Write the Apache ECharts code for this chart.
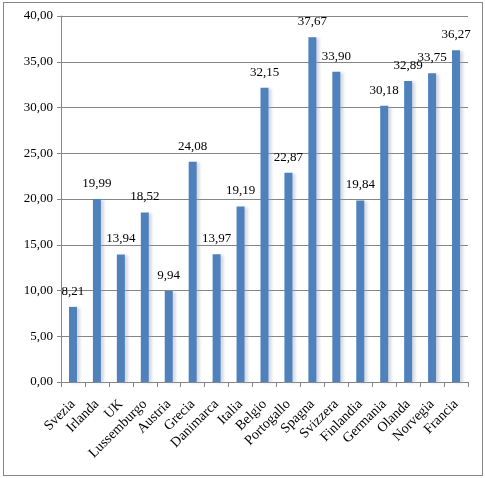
<!DOCTYPE html>
<html>
<head>
<meta charset="utf-8">
<script src="https://cdn.jsdelivr.net/npm/echarts@6/dist/echarts.min.js"></script>
<style>
    html, body { margin: 0; padding: 0; background: #fff; }
    #main { width: 485px; height: 478px; }
    #frame { position: absolute; left: 3px; top: 2px; width: 480px; height: 474px; border: 1px solid #868686; box-sizing: border-box; pointer-events: none; }
</style>
</head>
<body>
<div id="main"></div>
<div id="frame"></div>
<script>
var paesi = ['Svezia', 'Irlanda', 'UK', 'Lussemburgo', 'Austria', 'Grecia', 'Danimarca', 'Italia', 'Belgio',
    'Portogallo', 'Spagna', 'Svizzera', 'Finlandia', 'Germania', 'Olanda', 'Norvegia', 'Francia'];
var valori = [8.21, 19.99, 13.94, 18.52, 9.94, 24.08, 13.97, 19.19, 32.15,
    22.87, 37.67, 33.90, 19.84, 30.18, 32.89, 33.75, 36.27];
var yMin = 0, yMax = 40, yPasso = 5;

function virgola(v) {
    return Number(v).toFixed(2).replace('.', ',');
}

var myChart = echarts.init(document.getElementById('main'));

var option = {
    animation: false,
    textStyle: { fontFamily: 'Liberation Serif' },
    grid: { left: 61, right: 17, top: 16, bottom: 96, containLabel: false },
    xAxis: {
        type: 'category',
        data: paesi,
        axisLine: { lineStyle: { color: '#868686' } },
        axisTick: { show: true, length: 5, lineStyle: { color: '#868686' } },
        axisLabel: { rotate: 45, interval: 0, color: '#000', fontSize: 14, fontFamily: 'Liberation Serif', margin: 20 }
    },
    yAxis: {
        type: 'value',
        min: yMin,
        max: yMax,
        interval: yPasso,
        axisLine: { show: true, lineStyle: { color: '#868686' } },
        axisTick: { show: true, length: 4, lineStyle: { color: '#868686' } },
        splitLine: { lineStyle: { color: '#868686' } },
        axisLabel: { color: '#000', fontSize: 13, fontFamily: 'Liberation Serif', margin: 8, formatter: virgola }
    },
    series: [{
        type: 'bar',
        data: valori,
        barWidth: 8,
        itemStyle: {
            color: '#4F81BD',
            shadowColor: 'rgba(150,160,180,0.4)',
            shadowOffsetX: 3,
            shadowOffsetY: 1,
            shadowBlur: 3
        },
        label: {
            show: true,
            position: 'top',
            distance: 9,
            color: '#000',
            fontSize: 13,
            fontFamily: 'Liberation Serif',
            formatter: function (p) { return virgola(p.value); }
        }
    }]
};

myChart.setOption(option);
</script>
</body>
</html>
